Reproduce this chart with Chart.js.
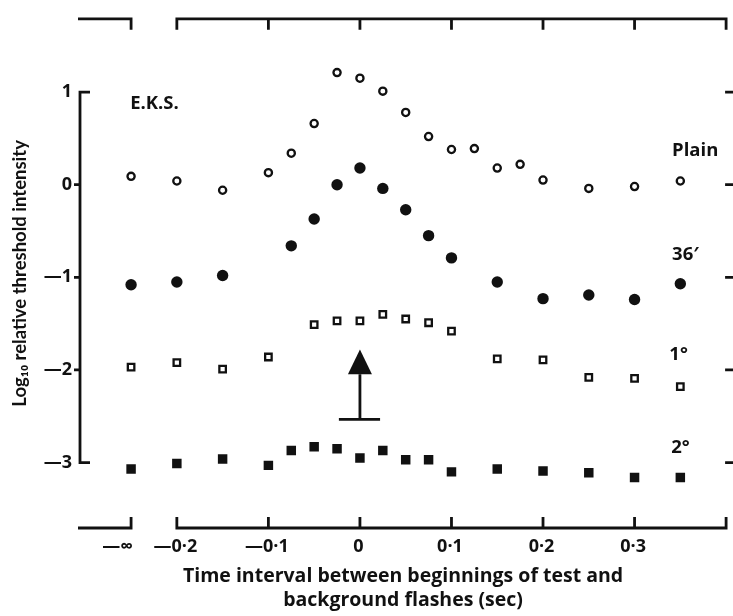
<!DOCTYPE html>
<html><head><meta charset="utf-8">
<script src="https://cdn.jsdelivr.net/npm/chart.js@4.4.1/dist/chart.umd.min.js"></script>
<style>html,body{margin:0;padding:0;background:#fff;}#wrap{width:733px;height:616px;}</style>
</head><body><div id="wrap"><canvas id="c" width="733" height="616"></canvas></div>
<script>
const NEG_INF = -Infinity;
const xTickValues = [NEG_INF, -0.2, -0.1, 0, 0.1, 0.2, 0.3];
const xTickLabels = ['—∞', '—0·2', '—0·1', '0', '0·1', '0·2', '0·3'];
const yTickValues = [-3, -2, -1, 0, 1];
const yTickLabels = ['—3', '—2', '—1', '0', '1'];

const plainX = [NEG_INF, -0.2, -0.15, -0.1, -0.075, -0.05, -0.025, 0, 0.025, 0.05, 0.075, 0.1, 0.125, 0.15, 0.175, 0.2, 0.25, 0.3, 0.35];
const plainY = [0.09, 0.04, -0.06, 0.13, 0.34, 0.66, 1.21, 1.15, 1.01, 0.78, 0.52, 0.38, 0.39, 0.18, 0.22, 0.05, -0.04, -0.02, 0.04];
const min36X = [NEG_INF, -0.2, -0.15, -0.075, -0.05, -0.025, 0, 0.025, 0.05, 0.075, 0.1, 0.15, 0.2, 0.25, 0.3, 0.35];
const min36Y = [-1.08, -1.05, -0.98, -0.66, -0.37, 0.00, 0.18, -0.04, -0.27, -0.55, -0.79, -1.05, -1.23, -1.19, -1.24, -1.07];
const deg1X = [NEG_INF, -0.2, -0.15, -0.1, -0.05, -0.025, 0, 0.025, 0.05, 0.075, 0.1, 0.15, 0.2, 0.25, 0.3, 0.35];
const deg1Y = [-1.97, -1.92, -1.99, -1.86, -1.51, -1.47, -1.47, -1.40, -1.45, -1.49, -1.58, -1.88, -1.89, -2.08, -2.09, -2.18];
const deg2X = [NEG_INF, -0.2, -0.15, -0.1, -0.075, -0.05, -0.025, 0, 0.025, 0.05, 0.075, 0.1, 0.15, 0.2, 0.25, 0.3, 0.35];
const deg2Y = [-3.07, -3.01, -2.96, -3.03, -2.87, -2.83, -2.85, -2.95, -2.87, -2.97, -2.97, -3.10, -3.07, -3.09, -3.11, -3.16, -3.16];

const seriesNames = ['Plain', '36′', '1°', '2°'];

// axis placement of the "−∞" column (layout, not data)
const NEG_INF_AT = -0.25;
const pos = v => (v === -Infinity ? NEG_INF_AT : v);
const pts = (xs, ys) => xs.map((x, i) => ({ x: pos(x), y: ys[i] }));
// the "−∞" label sits left of its tick in the original: pad it on the right
const tickText = (lbl, v) => (v === -Infinity ? lbl + '\u2003\u2002' : lbl + '\u2009');

const annotations = [
  { text: 'E.K.S.', x: -0.251, y: 0.87 },
  { text: 'Plain', x: 0.341, y: 0.37 },
  { text: '36′', x: 0.341, y: -0.754 },
  { text: '1°', x: 0.338, y: -1.834 },
  { text: '2°', x: 0.34, y: -2.84 }
];
const arrow = { x: 0, tip: -1.78, base: -2.045, foot: -2.533, barL: -0.023, barR: 0.022 };

const FONT = '"Open Sans", Lato, sans-serif';
const FONT_V = 'Lato, "Open Sans", sans-serif';
Chart.defaults.font.family = FONT;
Chart.defaults.font.weight = 'bold';
Chart.defaults.color = '#111';

const framePlugin = {
  id: 'frame',
  afterDraw(chart) {
    const { ctx, chartArea } = chart;
    const sx = chart.scales.x, sy = chart.scales.y;
    const X = v => sx.getPixelForValue(pos(v));
    const Y = v => sy.getPixelForValue(v);
    const L = chartArea.left, R = chartArea.right, T = chartArea.top, B = chartArea.bottom;
    ctx.save();
    ctx.strokeStyle = '#111';
    ctx.fillStyle = '#111';
    ctx.lineWidth = 2.8;
    ctx.lineCap = 'butt';
    ctx.lineJoin = 'miter';
    const tl = 11;
    [[T, 1], [B, -1]].forEach(([ye, d]) => {
      ctx.beginPath();
      ctx.moveTo(L - 2, ye);
      ctx.lineTo(X(NEG_INF), ye);
      ctx.lineTo(X(NEG_INF), ye + d * tl);
      ctx.stroke();
      ctx.beginPath();
      ctx.moveTo(X(-0.2), ye + d * tl);
      ctx.lineTo(X(-0.2), ye);
      ctx.lineTo(R, ye);
      ctx.lineTo(R, ye + d * tl);
      ctx.stroke();
      ctx.beginPath();
      xTickValues.slice(2).forEach(v => {
        ctx.moveTo(X(v), ye);
        ctx.lineTo(X(v), ye + d * tl);
      });
      ctx.stroke();
    });
    // left axis bracket
    ctx.beginPath();
    ctx.moveTo(L + 10, Y(1));
    ctx.lineTo(L, Y(1));
    ctx.lineTo(L, Y(-3));
    ctx.lineTo(L + 10, Y(-3));
    ctx.stroke();
    ctx.beginPath();
    [0, -1, -2].forEach(v => { ctx.moveTo(L, Y(v)); ctx.lineTo(L - 6, Y(v)); });
    ctx.stroke();
    // right ticks
    ctx.beginPath();
    yTickValues.forEach(v => { ctx.moveTo(R - 1, Y(v)); ctx.lineTo(R + 8, Y(v)); });
    ctx.stroke();
    // arrow
    const ax = X(arrow.x);
    ctx.beginPath();
    ctx.moveTo(ax, Y(arrow.tip));
    ctx.lineTo(ax - 12, Y(arrow.base));
    ctx.lineTo(ax + 12, Y(arrow.base));
    ctx.closePath();
    ctx.fill();
    ctx.beginPath();
    ctx.moveTo(ax, Y(arrow.base));
    ctx.lineTo(ax, Y(arrow.foot));
    ctx.moveTo(X(arrow.barL), Y(arrow.foot));
    ctx.lineTo(X(arrow.barR), Y(arrow.foot));
    ctx.stroke();
    // text annotations
    ctx.font = 'bold 18.5px ' + FONT;
    ctx.textAlign = 'left';
    ctx.textBaseline = 'middle';
    annotations.forEach(a => ctx.fillText(a.text, sx.getPixelForValue(a.x), Y(a.y)));
    ctx.restore();
  }
};

new Chart(document.getElementById('c'), {
  type: 'scatter',
  data: {
    datasets: [
      { label: seriesNames[0], data: pts(plainX, plainY), pointStyle: 'circle', pointRadius: 3.6, borderWidth: 2.3, borderColor: '#111', backgroundColor: '#fff' },
      { label: seriesNames[1], data: pts(min36X, min36Y), pointStyle: 'circle', pointRadius: 5.7, borderWidth: 0, borderColor: '#111', backgroundColor: '#111' },
      { label: seriesNames[2], data: pts(deg1X, deg1Y), pointStyle: 'rect', pointRadius: 4.6, borderWidth: 2.3, borderColor: '#111', backgroundColor: '#fff' },
      { label: seriesNames[3], data: pts(deg2X, deg2Y), pointStyle: 'rect', pointRadius: 6.7, borderWidth: 0, borderColor: '#111', backgroundColor: '#111' }
    ]
  },
  options: {
    responsive: false,
    animation: false,
    devicePixelRatio: 1,
    layout: { padding: { left: 0, right: 6, top: 14, bottom: 0 } },
    plugins: { legend: { display: false }, tooltip: { enabled: false } },
    scales: {
      x: {
        type: 'linear', min: -0.3058, max: 0.4,
        grid: { display: false, drawTicks: false }, border: { display: false },
        afterBuildTicks: s => { s.ticks = xTickValues.map(v => ({ value: pos(v) })); },
        afterFit: s => { s.height = 88; },
        ticks: { autoSkip: false, maxRotation: 0, padding: 8, font: { size: 18, weight: 'bold' }, callback: (v, i) => tickText(xTickLabels[i], xTickValues[i]) },
        title: { display: true, text: ['Time interval between beginnings of test and', 'background flashes (sec)'], font: { size: 19.5, weight: 'bold', lineHeight: 1.2 }, padding: { top: 0, bottom: 4 } }
      },
      y: {
        type: 'linear', min: -3.706, max: 1.791,
        grid: { display: false, drawTicks: false }, border: { display: false },
        afterBuildTicks: s => { s.ticks = yTickValues.map(v => ({ value: v })); },
        afterFit: s => { s.width = 80; },
        ticks: { autoSkip: false, padding: 8, font: { size: 18, weight: 'bold' }, callback: (v, i) => yTickLabels[i] },
        title: { display: true, text: 'Log₁₀ relative threshold intensity', font: { family: FONT_V, size: 18.5, weight: 'bold', lineHeight: 1.28 }, padding: { top: 8.5, bottom: 0 } }
      }
    }
  },
  plugins: [framePlugin]
});
</script>
</body></html>
